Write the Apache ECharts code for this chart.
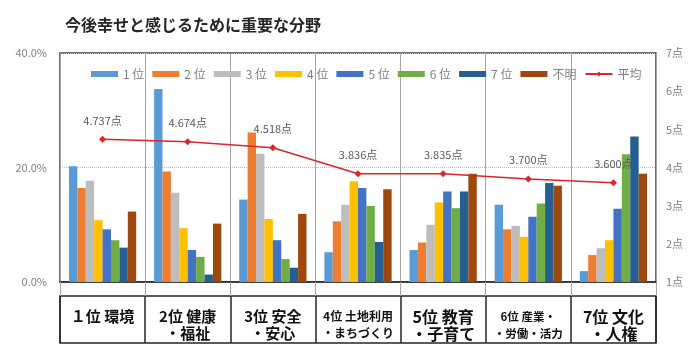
<!DOCTYPE html>
<html>
<head>
<meta charset="utf-8">
<script src="https://cdn.jsdelivr.net/npm/echarts@6/dist/echarts.min.js"></script>
<style>html,body{margin:0;padding:0;background:#fff}#c{width:700px;height:354px}</style>
</head>
<body>
<div id="c"></div>
<script>
const titleText = '今後幸せと感じるために重要な分野';
const categories = ['１位 環境', '2位 健康\n・福祉', '3位 安全\n・安心', '4位 土地利用\n・まちづくり', '5位 教育\n・子育て', '6位 産業・\n・労働・活力', '7位 文化\n・人権'];
const seriesNames = ['1 位', '2 位', '3 位', '4 位', '5 位', '6 位', '7 位', '不明'];
const rank1 = [20.2, 33.7, 14.4, 5.2, 5.6, 13.5, 1.9];
const rank2 = [16.4, 19.3, 26.1, 10.6, 6.9, 9.2, 4.7];
const rank3 = [17.7, 15.6, 22.4, 13.5, 10.0, 9.8, 5.9];
const rank4 = [10.8, 9.4, 11.0, 17.6, 13.9, 7.9, 7.3];
const rank5 = [9.2, 5.6, 7.3, 16.4, 15.8, 11.4, 12.8];
const rank6 = [7.3, 4.4, 4.0, 13.3, 12.9, 13.7, 22.3];
const rank7 = [6.0, 1.3, 2.5, 7.0, 15.8, 17.3, 25.4];
const unknown = [12.3, 10.2, 11.9, 16.2, 18.9, 16.8, 18.9];
const avgName = '平均';
const average = [4.737, 4.674, 4.518, 3.836, 3.835, 3.700, 3.600];
const leftTicks = {min: 0, max: 40, interval: 20};
const rightTicks = {min: 1, max: 7, interval: 1};

const barData = [rank1, rank2, rank3, rank4, rank5, rank6, rank7, unknown];
const barColors = ['#5B9BD5', '#ED7D31', '#BDBDBD', '#FFC000', '#4472C4', '#70AD47', '#255E91', '#9E480E'];
const labelStyleKey = ['a', 'a', 'a', 'b', 'd', 'c', 'd'];
const FONT = '"Noto Sans CJK JP", "Noto Sans", sans-serif';

const chart = echarts.init(document.getElementById('c'), null, {renderer: 'canvas'});

const series = barData.map((d, i) => ({
  name: seriesNames[i],
  type: 'bar',
  data: d,
  xAxisIndex: 0,
  yAxisIndex: 0,
  barGap: '0%',
  barCategoryGap: '21%',
  itemStyle: {color: barColors[i]},
  z: 2
}));
series.push({
  name: avgName,
  type: 'line',
  data: average,
  xAxisIndex: 0,
  yAxisIndex: 1,
  symbol: 'diamond',
  symbolSize: 7,
  lineStyle: {color: '#D9262C', width: 1.5},
  itemStyle: {color: '#D9262C'},
  label: {
    show: true,
    position: 'top',
    distance: 10,
    color: '#595959',
    fontSize: 11,
    fontFamily: FONT,
    formatter: p => p.value.toFixed(3) + '点'
  },
  z: 5
});

chart.setOption({
  animation: false,
  backgroundColor: '#fff',
  textStyle: {fontFamily: FONT},
  title: {
    text: titleText,
    left: 60,
    top: 12,
    textStyle: {fontSize: 16, fontWeight: 'bold', color: '#262626', fontFamily: FONT}
  },
  legend: {
    left: 86,
    top: 63,
    width: 600,
    itemWidth: 27,
    itemHeight: 6,
    itemGap: 8,
    textStyle: {fontSize: 12, color: '#7f7f7f', fontFamily: FONT},
    data: seriesNames.map(n => ({name: n, icon: 'rect'})).concat([{name: avgName}])
  },
  grid: [
    {left: 60, right: 44, top: 53, bottom: 72, show: true, borderColor: '#404040', borderWidth: 1.5, containLabel: false},
    {left: 60, right: 44, top: 296, height: 47, show: true, borderColor: '#262626', borderWidth: 1.5}
  ],
  xAxis: [
    {
      type: 'category',
      gridIndex: 0,
      data: categories,
      axisLine: {show: true, lineStyle: {color: '#262626', width: 1.5}},
      axisTick: {show: true, length: 14, interval: 0, lineStyle: {color: '#a6a6a6'}},
      splitLine: {show: true, interval: 0, lineStyle: {color: '#a6a6a6', width: 1}},
      axisLabel: {
        interval: 0,
        margin: 26,
        color: '#111',
        formatter: (v, idx) => v.split('\n').map(l => '{' + labelStyleKey[idx] + '|' + l + '}').join('\n'),
        rich: {
          a: {fontSize: 15, fontWeight: 'bold', color: '#111', lineHeight: 17, fontFamily: FONT},
          b: {fontSize: 12, fontWeight: 'bold', color: '#111', lineHeight: 17, fontFamily: FONT},
          c: {fontSize: 11.5, fontWeight: 'bold', color: '#111', lineHeight: 17, fontFamily: FONT},
          d: {fontSize: 16, fontWeight: 'bold', color: '#111', lineHeight: 17, fontFamily: FONT}
        }
      }
    },
    {
      type: 'category',
      gridIndex: 1,
      data: categories,
      axisLine: {show: false},
      axisTick: {show: false},
      axisLabel: {show: false},
      splitLine: {show: true, interval: 0, lineStyle: {color: '#262626', width: 1.5}}
    }
  ],
  yAxis: [
    {
      type: 'value',
      gridIndex: 0,
      min: leftTicks.min, max: leftTicks.max, interval: leftTicks.interval,
      axisLine: {show: false},
      axisTick: {show: false},
      splitLine: {show: true, lineStyle: {color: '#bfbfbf', type: 'dotted', width: 1}},
      axisLabel: {margin: 13, color: '#7f7f7f', fontSize: 11, fontFamily: FONT, formatter: v => v.toFixed(1) + '%'}
    },
    {
      type: 'value',
      gridIndex: 0,
      position: 'right',
      min: rightTicks.min, max: rightTicks.max, interval: rightTicks.interval,
      axisLine: {show: false},
      axisTick: {show: false},
      splitLine: {show: false},
      axisLabel: {margin: 10, color: '#7f7f7f', fontSize: 11, fontFamily: FONT, formatter: v => v + '点'}
    },
    {
      type: 'value',
      gridIndex: 1,
      min: 0, max: 1,
      show: false
    }
  ],
  series: series
});
</script>
</body>
</html>
